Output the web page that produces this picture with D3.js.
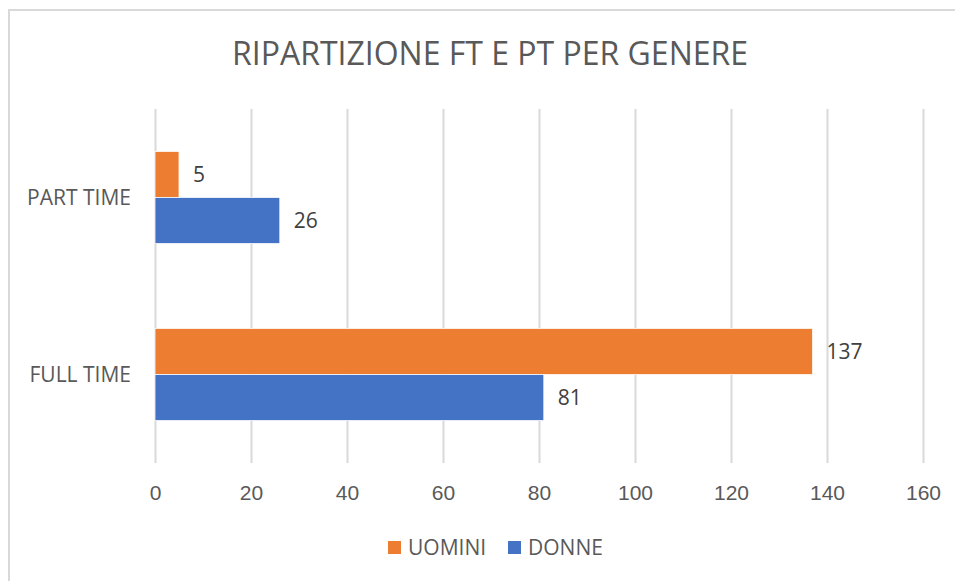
<!DOCTYPE html>
<html>
<head>
<meta charset="utf-8">
<script src="https://cdn.jsdelivr.net/npm/d3@7"></script>
<style>
  html, body { margin: 0; padding: 0; background: #fff; }
  svg { display: block; font-family: 'Open Sans', 'Segoe UI', sans-serif; }
  .tick text { fill: #595959; }
</style>
</head>
<body>
<svg width="955" height="581"></svg>
<script>
const categories = ['PART TIME', 'FULL TIME'];
const seriesNames = ['UOMINI', 'DONNE'];
const uomini = [5, 137];
const donne = [26, 81];
const xTicks = [0, 20, 40, 60, 80, 100, 120, 140, 160];
const colors = ['#ED7D31', '#4472C4'];

function whenLoaded(){
    const svg = d3.select('svg');
    const width = +svg.attr('width');
    const height = +svg.attr('height');

    const plot = {left: 155, right: 923, top: 109, bottom: 463};

    // chart frame (cropped on right/bottom)
    svg.append('rect')
        .attr('x', 9).attr('y', 10)
        .attr('width', width + 20).attr('height', height + 20)
        .attr('fill', '#fff')
        .attr('stroke', '#d9d9d9')
        .attr('stroke-width', 2);

    svg.append('text')
        .attr('x', 490).attr('y', 65)
        .attr('text-anchor', 'middle')
        .attr('fill', '#595959')
        .style('font-size', '32px')
        .text('RIPARTIZIONE FT E PT PER GENERE');

    const data = categories.map((c, i) => ({cat: c, values: [uomini[i], donne[i]]}));

    const xScale = d3.scaleLinear()
        .domain([0, 160])
        .range([plot.left, plot.right]);

    const yScale = d3.scaleBand()
        .domain(categories)
        .range([plot.top, plot.bottom])
        .paddingInner(0.48)
        .paddingOuter(0.24);

    const ySub = d3.scaleBand()
        .domain(seriesNames)
        .range([0, yScale.bandwidth()]);

    // gridlines + tick labels
    const xAxis = d3.axisBottom(xScale)
        .tickValues(xTicks)
        .tickSize(-(plot.bottom - plot.top))
        .tickPadding(30);

    const xAxisG = svg.append('g')
        .attr('transform', `translate(0,${plot.bottom})`)
        .call(xAxis);
    xAxisG.select('.domain').remove();
    xAxisG.selectAll('.tick line')
        .attr('stroke', '#d9d9d9')
        .attr('stroke-width', 2);
    xAxisG.selectAll('.tick text')
        .style('font-size', '21px')
        .attr('dy', '0.71em')
        .attr('y', 22);

    // category labels
    svg.append('g').selectAll('text').data(categories)
        .enter().append('text')
        .attr('x', 131)
        .attr('y', d => yScale(d) + yScale.bandwidth() / 2)
        .attr('dy', '0.35em')
        .attr('text-anchor', 'end')
        .attr('fill', '#595959')
        .style('font-size', '21px')
        .text(d => d);

    const groups = svg.append('g').selectAll('g').data(data)
        .enter().append('g')
        .attr('transform', d => `translate(0,${yScale(d.cat)})`);

    const bars = groups.selectAll('g.bar')
        .data(d => d.values.map((v, j) => ({name: seriesNames[j], value: v, j: j})))
        .enter().append('g').attr('class', 'bar');

    bars.append('rect')
        .attr('x', xScale(0))
        .attr('y', d => ySub(d.name))
        .attr('width', d => xScale(d.value) - xScale(0))
        .attr('height', ySub.bandwidth())
        .attr('fill', d => colors[d.j])
        .attr('stroke', '#fff')
        .attr('stroke-width', 0.75);

    bars.append('text')
        .attr('x', d => xScale(d.value) + 14)
        .attr('y', d => ySub(d.name) + ySub.bandwidth() / 2)
        .attr('dy', '0.35em')
        .attr('fill', '#404040')
        .style('font-size', '21px')
        .text(d => d.value);

    // legend
    const legendX = [388, 508];
    const legend = svg.append('g').selectAll('g').data(seriesNames)
        .enter().append('g')
        .attr('transform', (d, i) => `translate(${legendX[i]},541)`);
    legend.append('rect')
        .attr('width', 13).attr('height', 13)
        .attr('fill', (d, i) => colors[i]);
    legend.append('text')
        .attr('x', 20).attr('y', 7)
        .attr('dy', '0.35em')
        .attr('fill', '#595959')
        .style('font-size', '21px')
        .text(d => d);
}

window.onload = whenLoaded;
</script>
</body>
</html>
